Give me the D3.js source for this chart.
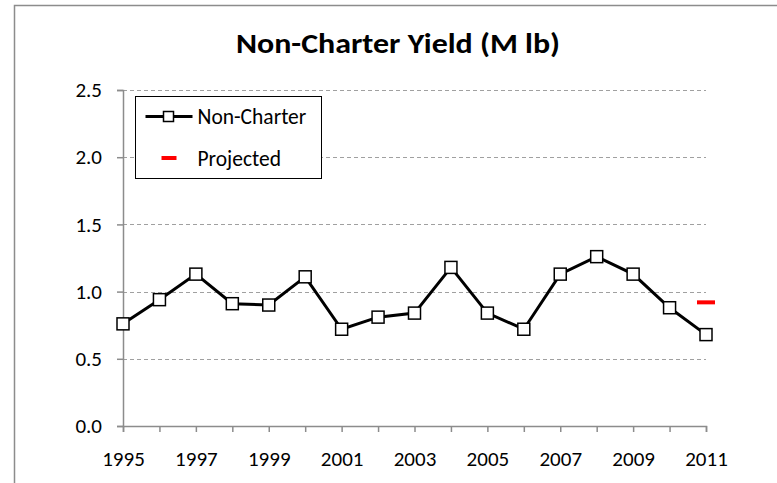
<!DOCTYPE html>
<html>
<head>
<meta charset="utf-8">
<script src="https://cdn.jsdelivr.net/npm/d3@7"></script>
<style>
  body { margin: 0; background: #fff; }
  text { font-family: Carlito, "Open Sans", "Noto Sans", sans-serif; }
</style>
</head>
<body>
<div id="chart"></div>
<script>
// chart data
const years = [1995, 1996, 1997, 1998, 1999, 2000, 2001, 2002, 2003, 2004, 2005, 2006, 2007, 2008, 2009, 2010, 2011];
const nonCharter = [0.76, 0.94, 1.13, 0.91, 0.90, 1.11, 0.72, 0.81, 0.84, 1.18, 0.84, 0.72, 1.13, 1.26, 1.13, 0.88, 0.68];
const projectedYear = [2011];
const projectedValue = [0.92];
const yTicks = [0, 0.5, 1.0, 1.5, 2.0, 2.5];
const xTickLabels = [1995, 1997, 1999, 2001, 2003, 2005, 2007, 2009, 2011];

const W = 777, H = 483;
const margin = { top: 90, right: 71, bottom: 57, left: 123 };
const width = W - margin.left - margin.right;
const height = H - margin.top - margin.bottom;

const root = d3.select("#chart").append("svg")
  .attr("width", W)
  .attr("height", H);

// outer frame (only top and left edges visible)
root.append("path")
  .attr("d", `M14.5,${H} L14.5,5.5 L${W},5.5`)
  .attr("fill", "none")
  .attr("stroke", "#8c8c8c")
  .attr("stroke-width", 1.5);

root.append("text")
  .attr("x", 398)
  .attr("y", 53)
  .attr("text-anchor", "middle")
  .style("font-size", "28px")
  .style("font-weight", "bold")
  .attr("textLength", 324)
  .attr("lengthAdjust", "spacingAndGlyphs")
  .text("Non-Charter Yield (M lb)");

const svg = root.append("g")
  .attr("transform", `translate(${margin.left},${margin.top})`);

const x = d3.scaleLinear().domain([1995, 2011]).range([0, width]);
const y = d3.scaleLinear().domain([0, 2.5]).range([height, 0]);

// gridlines
svg.append("g")
  .selectAll("line")
  .data(yTicks.filter(d => d > 0))
  .enter()
  .append("line")
  .attr("x1", 0)
  .attr("x2", width)
  .attr("y1", d => Math.round(y(d)) + 0.5)
  .attr("y2", d => Math.round(y(d)) + 0.5)
  .attr("stroke", "#a0a0a0")
  .attr("stroke-width", 1)
  .attr("stroke-dasharray", "4,3");

// y axis
const yAxis = svg.append("g")
  .call(d3.axisLeft(y).tickValues(yTicks).tickFormat(d3.format(".1f")).tickSize(6).tickPadding(15));
yAxis.select(".domain").attr("stroke", "#8c8c8c").attr("stroke-width", 1.5);
yAxis.selectAll(".tick line").attr("stroke", "#8c8c8c").attr("stroke-width", 1.5);
yAxis.selectAll("text").style("font-size", "21px").attr("fill", "#000");

// x axis
const xAxis = svg.append("g")
  .attr("transform", `translate(0,${height})`)
  .call(d3.axisBottom(x).tickValues(years).tickFormat(d => xTickLabels.includes(d) ? d : "").tickSize(6).tickPadding(19));
xAxis.select(".domain").attr("stroke", "#8c8c8c").attr("stroke-width", 1.5);
xAxis.selectAll(".tick line").attr("stroke", "#8c8c8c").attr("stroke-width", 1.5);
xAxis.selectAll("text").style("font-size", "21px").attr("fill", "#000");

const data = years.map((yr, i) => ({ year: yr, value: nonCharter[i] }));

// series line
svg.append("path")
  .datum(data)
  .attr("fill", "none")
  .attr("stroke", "#000")
  .attr("stroke-width", 3)
  .attr("d", d3.line().x(d => x(d.year)).y(d => y(d.value)));

// markers
const ms = 12;
svg.selectAll(".marker")
  .data(data)
  .enter()
  .append("rect")
  .attr("class", "marker")
  .attr("x", d => x(d.year) - ms / 2)
  .attr("y", d => y(d.value) - ms / 2)
  .attr("width", ms)
  .attr("height", ms)
  .attr("fill", "#fff")
  .attr("stroke", "#000")
  .attr("stroke-width", 1.5);

// projected dash
svg.selectAll(".proj")
  .data(projectedYear.map((yr, i) => ({ year: yr, value: projectedValue[i] })))
  .enter()
  .append("line")
  .attr("class", "proj")
  .attr("x1", d => x(d.year) - 9)
  .attr("x2", d => x(d.year) + 9)
  .attr("y1", d => y(d.value))
  .attr("y2", d => y(d.value))
  .attr("stroke", "#ff0000")
  .attr("stroke-width", 4);

// legend
const legend = root.append("g").attr("transform", "translate(135.5,96.5)");
legend.append("rect")
  .attr("width", 186)
  .attr("height", 82)
  .attr("fill", "#fff")
  .attr("stroke", "#000")
  .attr("stroke-width", 1);
legend.append("line")
  .attr("x1", 10).attr("x2", 57)
  .attr("y1", 20).attr("y2", 20)
  .attr("stroke", "#000").attr("stroke-width", 3);
legend.append("rect")
  .attr("x", 33 - ms / 2 + 1).attr("y", 20 - ms / 2 + 1)
  .attr("width", ms - 2).attr("height", ms - 2)
  .attr("fill", "#fff").attr("stroke", "#000").attr("stroke-width", 1.5);
legend.append("text")
  .attr("x", 62).attr("y", 27)
  .style("font-size", "21.5px")
  .text("Non-Charter");
legend.append("line")
  .attr("x1", 26).attr("x2", 41)
  .attr("y1", 61.5).attr("y2", 61.5)
  .attr("stroke", "#ff0000").attr("stroke-width", 4);
legend.append("text")
  .attr("x", 62).attr("y", 69)
  .style("font-size", "21.5px")
  .text("Projected");
</script>
</body>
</html>
